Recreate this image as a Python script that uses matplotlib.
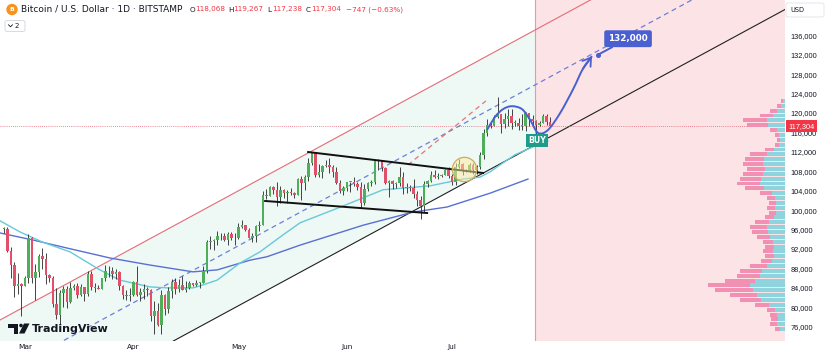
import numpy as np
import pandas as pd
import matplotlib
matplotlib.use("Agg")
from matplotlib import pyplot as plt
from matplotlib import transforms
from matplotlib.patches import Polygon, Circle, FancyBboxPatch, PathPatch
from matplotlib.path import Path

# ---- daily candles, BITSTAMP BTC/USD, prices in thousands of USD ----
START = pd.Timestamp("2025-02-23")
END = pd.Timestamp("2025-07-29")
MAR1 = pd.Timestamp("2025-03-01")

opens_k = [
    96.1, 96.2, 91.5, 88.7, 84.3, 84.7,
    84.4, 86.0, 94.3, 86.1, 87.2, 90.6, 89.9, 86.7, 86.1, 80.7, 78.5, 82.9, 83.7, 81.1, 84.0, 84.3,
    82.6, 84.1, 82.7, 86.8, 84.2, 84.0, 83.8, 86.1, 87.5, 87.4, 86.9, 87.2, 84.4, 82.6, 82.3,
    82.5, 85.2, 82.5, 83.1, 83.8, 83.5, 78.3, 79.2, 76.3, 82.6, 79.6, 83.4, 85.3, 83.7, 84.5,
    83.6, 84.0, 84.9, 84.5, 85.1, 85.1, 87.5, 93.4, 93.7, 93.9, 94.7, 94.6, 93.8, 95.0, 94.2,
    94.2, 96.5, 96.9, 95.9, 94.3, 94.7, 96.8, 97.0, 103.2, 103.0, 104.8, 104.1, 102.8, 104.1, 103.5,
    103.7, 103.5, 103.2, 106.4, 105.6, 106.8, 109.7, 111.7, 107.3, 107.8, 109.0, 109.4, 108.9, 107.8,
    105.6, 103.9,
    104.6, 105.8, 105.8, 105.4, 104.7, 101.5, 104.3, 105.6, 105.7, 110.3, 110.2, 108.6, 105.6, 106.0,
    105.4, 105.5, 106.8, 104.5, 104.8, 104.6, 103.3, 102.1, 100.9, 105.4, 106.0, 107.3, 106.9, 107.1,
    107.3, 108.3,
    107.1, 105.7, 108.8, 109.6, 108.0, 108.2, 109.2, 108.2, 108.9, 111.3, 115.9, 117.5, 117.4, 119.1,
    119.8, 117.7, 118.7, 119.3, 117.9, 117.9, 117.3, 117.4, 120.0, 118.7, 118.3, 117.6, 117.9, 119.4,
    118.068,
]
highs_k = [
    96.5, 96.5, 92.5, 89.3, 87.0, 85.0,
    86.5, 95.0, 94.4, 88.9, 91.0, 92.3, 91.2, 86.8, 86.5, 84.0, 83.6, 84.4, 84.3, 85.3, 84.7, 85.0,
    84.8, 84.1, 87.4, 87.4, 85.0, 84.5, 86.1, 88.8, 88.5, 88.3, 87.8, 87.5, 84.6, 83.5, 83.9,
    85.5, 88.5, 83.9, 84.7, 84.2, 83.8, 81.2, 80.9, 83.5, 82.7, 84.2, 85.9, 86.1, 85.8, 86.5,
    85.5, 85.5, 85.1, 85.6, 85.3, 88.5, 93.8, 94.7, 94.0, 95.8, 95.3, 95.3, 95.6, 95.5, 95.2,
    97.4, 97.9, 96.9, 96.3, 95.2, 96.9, 97.7, 103.9, 104.3, 104.9, 105.0, 105.8, 104.9, 104.3, 104.2,
    104.6, 103.7, 106.6, 107.1, 107.3, 110.8, 111.9, 111.8, 109.5, 109.3, 110.4, 110.7, 109.3, 108.9,
    106.3, 104.9,
    105.9, 105.9, 106.8, 105.9, 105.9, 105.3, 105.9, 106.3, 110.4, 110.6, 110.4, 108.9, 106.2, 106.2,
    105.9, 108.9, 107.8, 105.6, 105.2, 106.5, 104.0, 103.0, 106.0, 106.3, 108.1, 108.2, 107.7, 107.5,
    108.5, 108.8,
    107.5, 109.8, 110.5, 109.8, 108.4, 109.7, 109.7, 109.2, 111.9, 116.8, 118.8, 118.2, 119.5, 123.2,
    119.9, 120.0, 120.8, 120.9, 118.6, 118.9, 119.7, 120.2, 120.1, 119.5, 118.5, 118.3, 119.8, 119.8,
    119.267,
]
lows_k = [
    95.2, 91.3, 86.0, 82.2, 82.8, 78.2,
    84.3, 85.1, 85.0, 81.4, 86.3, 87.8, 84.7, 85.3, 80.0, 77.5, 76.6, 80.0, 79.9, 80.8, 83.6, 82.0,
    82.4, 81.2, 82.3, 83.6, 83.2, 83.7, 83.8, 85.5, 86.3, 85.9, 85.8, 83.6, 81.7, 81.6, 81.3,
    82.4, 82.3, 81.2, 81.7, 82.4, 77.2, 74.5, 76.2, 74.6, 78.5, 78.9, 82.0, 82.8, 83.2, 83.6,
    83.1, 83.8, 84.3, 84.4, 83.9, 85.1, 87.1, 91.9, 91.7, 92.9, 93.9, 93.6, 92.9, 93.8, 92.9,
    94.1, 96.3, 95.7, 94.2, 93.5, 93.4, 95.8, 96.9, 102.3, 102.9, 103.3, 100.8, 101.5, 102.6, 101.4,
    103.2, 102.6, 103.1, 102.0, 104.2, 106.1, 109.3, 106.8, 106.9, 106.6, 108.8, 107.6, 106.8, 105.3,
    103.6, 103.1,
    103.9, 103.7, 105.0, 104.2, 100.4, 101.1, 103.9, 104.9, 105.4, 108.3, 108.1, 105.4, 102.7, 104.3,
    104.5, 105.0, 103.4, 103.5, 103.9, 102.4, 100.9, 98.2, 99.6, 104.7, 105.9, 106.6, 106.4, 106.8,
    107.2, 106.7,
    105.2, 105.1, 108.6, 107.3, 107.8, 107.8, 107.5, 107.4, 108.4, 110.6, 115.3, 116.9, 117.3, 118.9,
    115.8, 116.9, 117.4, 116.8, 117.3, 116.5, 116.6, 116.2, 117.3, 117.4, 114.7, 117.4, 117.9, 117.5,
    117.238,
]
closes_k = [
    96.2, 91.5, 88.7, 84.3, 84.7, 84.4,
    86.0, 94.3, 86.1, 87.2, 90.6, 89.9, 86.7, 86.1, 80.7, 78.5, 82.9, 83.7, 81.1, 84.0, 84.3, 82.6,
    84.1, 82.7, 86.8, 84.2, 84.0, 83.8, 86.1, 87.5, 87.4, 86.9, 87.2, 84.4, 82.6, 82.3, 82.5,
    85.2, 82.5, 83.1, 83.8, 83.5, 78.3, 79.2, 76.3, 82.6, 79.6, 83.4, 85.3, 83.7, 84.5, 83.6,
    84.0, 84.9, 84.5, 85.1, 85.1, 87.5, 93.4, 93.7, 93.9, 94.7, 94.6, 93.8, 95.0, 94.2, 94.2,
    96.5, 96.9, 95.9, 94.3, 94.7, 96.8, 97.0, 103.2, 103.0, 104.8, 104.1, 102.8, 104.1, 103.5, 103.7,
    103.5, 103.2, 106.4, 105.6, 106.8, 109.7, 111.7, 107.3, 107.8, 109.0, 109.4, 108.9, 107.8, 105.6,
    103.9, 104.6,
    105.8, 105.8, 105.4, 104.7, 101.5, 104.3, 105.6, 105.7, 110.3, 110.2, 108.6, 105.6, 106.0, 105.4,
    105.5, 106.8, 104.5, 104.8, 104.6, 103.3, 102.1, 100.9, 105.4, 106.0, 107.3, 106.9, 107.1, 107.3,
    108.3, 107.1,
    105.7, 108.8, 109.6, 108.0, 108.2, 109.2, 108.2, 108.9, 111.3, 115.9, 117.5, 117.4, 119.1, 119.8,
    117.7, 118.7, 119.3, 117.9, 117.9, 117.3, 117.4, 120.0, 118.7, 118.3, 117.6, 117.9, 119.4, 118.051,
    117.304,
]

# moving averages (days since Mar 1, price k)
ma_fast_days = [-7.1, -1.4, 5.1, 12.9, 21.4, 27.1, 35.7, 40.6, 48.0, 50.0, 54.9, 61.4, 67.1, 73.7,
                78.6, 90.0, 102.3, 115.7, 125.1, 130.0, 132.9, 135.7, 140.0, 145.7, 149.4]
ma_fast_k = [97.8, 95.5, 93.4, 91.4, 87.7, 85.6, 84.2, 84.0, 84.0, 84.4, 85.6, 89.1, 91.4, 94.9,
             97.4, 100.6, 104.2, 105.0, 106.4, 106.8, 107.9, 109.3, 111.4, 113.2, 114.2]
ma_slow_days = [-7.1, 2.3, 12.0, 24.3, 35.7, 48.0, 54.9, 64.3, 69.1, 78.6, 96.6, 110.9, 120.6,
                132.9, 143.7]
ma_slow_k = [95.3, 93.85, 92.2, 90.15, 88.7, 87.3, 87.7, 89.7, 90.4, 92.8, 96.9, 99.6, 100.65,
             103.5, 106.4]

# visible range volume profile (1k bins), arbitrary units
vp_price_k = list(range(75, 123))
vp_up = [5, 8, 7, 8, 10, 16, 24, 28, 32, 35, 30, 25, 23, 18, 13, 11, 12, 11, 12, 15, 17, 18, 16, 11,
         9, 10, 9, 10, 13, 21, 25, 24, 22, 20, 22, 21, 18, 11, 6, 5, 6, 8, 17, 18, 12, 8, 4, 2]
vp_down = [5, 7, 7, 7, 8, 14, 21, 27, 38, 42, 30, 23, 22, 17, 11, 9, 10, 9, 10, 13, 16, 17, 14, 9,
           7, 8, 7, 8, 12, 19, 23, 21, 20, 18, 20, 19, 17, 9, 4, 3, 4, 7, 21, 24, 13, 7, 4, 2]

# drawings (days since Mar 1, price k)
channel_days = [-8, 220]
channel_upper_k = [77.05, 166.1]
channel_mid_k = [65.72, 154.8]
channel_lower_k = [53.38, 142.43]
red_dash_days = [109.4, 131.7]
red_dash_k = [109.3, 122.5]
tri_top_days = [80.9, 130.9]
tri_top_k = [111.97, 107.65]
tri_bot_days = [68.6, 114.9]
tri_bot_k = [101.89, 99.41]
circle_day, circle_k = 125.4, 108.47
path_days = [132.0, 134.3, 136.6, 139.1, 142.0, 144.3, 146.6, 149.4, 152.9, 156.6, 159.4, 162.0]
path_k = [116.5, 119.2, 120.8, 121.4, 120.8, 118.6, 115.9, 116.5, 120.0, 124.9, 129.1, 131.7]
target_k = 132.0
target_day = 163.7
zone_start_day = 145.7
buy_day, buy_k = 146.3, 114.34
last_price_k = 117.304

month_ticks = [0, 31, 61, 92, 122]
month_labels = ["Mar", "Apr", "May", "Jun", "Jul"]
price_ticks_k = list(range(76, 137, 4))

GREEN = "#4fae5a"
RED = "#e0506a"
TEXT = "#131722"


def catmull_path(xs, ys):
    pts = np.column_stack([xs, ys])
    verts = [pts[0]]
    codes = [Path.MOVETO]
    n = len(pts)
    for i in range(n - 1):
        p0 = pts[max(i - 1, 0)]
        p1 = pts[i]
        p2 = pts[i + 1]
        p3 = pts[min(i + 2, n - 1)]
        verts += [p1 + (p2 - p0) / 6, p2 - (p3 - p1) / 6, p2]
        codes += [Path.CURVE4] * 3
    return Path(verts, codes)


def main():
    W, H = 825, 356
    fig = plt.figure(figsize=(W / 100, H / 100), dpi=100)
    fig.patch.set_facecolor("white")
    ax = fig.add_axes([0, 15 / H, 785 / W, 341 / H])
    ax.set_xlim(-7.14, 217.14)
    ax.set_ylim(73.06, 143.27)
    for s in ax.spines.values():
        s.set_visible(False)

    days = np.array([(d - MAR1).days for d in pd.date_range(START, END)])
    o = np.array(opens_k)
    h = np.array(highs_k)
    l = np.array(lows_k)
    c = np.array(closes_k)

    # background zones
    ax.fill_between(channel_days, channel_lower_k, channel_upper_k, color="#eef8f5", lw=0, zorder=0.2)
    ax.axvspan(zone_start_day, 230, color="#fce3e5", lw=0, zorder=0.3)
    ax.axvline(zone_start_day, color="#e79aa6", lw=0.8, zorder=0.4)

    # channel
    ax.plot(channel_days, channel_upper_k, color="#e26d7a", lw=0.8, zorder=1)
    ax.plot(channel_days, channel_mid_k, color="#6d7fd6", lw=0.9, ls=(0, (4, 3)), zorder=1)
    ax.plot(channel_days, channel_lower_k, color="#202020", lw=0.8, zorder=1)
    ax.plot(red_dash_days, red_dash_k, color="#e57482", lw=0.9, ls=(0, (4, 3)), zorder=1)
    ax.axhline(last_price_k, color="#e06272", lw=0.6, ls=(0, (1, 1.5)), zorder=1)

    # moving averages
    ax.plot(ma_slow_days, ma_slow_k, color="#5a6fd3", lw=1.0, zorder=2)
    ax.plot(ma_fast_days, ma_fast_k, color="#68c9d8", lw=1.0, zorder=2)

    # candles
    colors = np.where(c >= o, GREEN, RED)
    ax.vlines(days, l, h, color="#262626", lw=0.6, zorder=3)
    ax.bar(days, np.maximum(np.abs(c - o), 0.15), bottom=np.minimum(o, c), width=0.66,
           color=colors, lw=0, zorder=4)

    # triangle + circle
    ax.plot(tri_top_days, tri_top_k, color="#111111", lw=1.4, zorder=5)
    ax.plot(tri_bot_days, tri_bot_k, color="#111111", lw=1.4, zorder=5)
    ax.plot(circle_day, circle_k, "o", ms=17.5, mfc=(1.0, 0.92, 0.62, 0.5), mec="#c9ad60",
            mew=0.9, zorder=6)

    # projected path with arrow
    blue = "#4a5fd0"
    ax.add_patch(PathPatch(catmull_path(path_days, path_k), fc="none", ec=blue, lw=1.4, zorder=6))
    ax.annotate("", xy=(path_days[-1], path_k[-1]), xytext=(path_days[-2], path_k[-2]),
                arrowprops=dict(arrowstyle="->,head_length=0.7,head_width=0.45", color=blue, lw=1.3,
                                shrinkA=0, shrinkB=0, mutation_scale=8), zorder=6)
    ax.plot(target_day, target_k, "o", ms=2.6, color=blue, zorder=7)
    ax.annotate(f"{int(target_k * 1000):,}", xy=(target_day, target_k), xytext=(172.3, 135.3),
                ha="center", va="center", color="white", fontsize=6.3, fontweight="bold",
                bbox=dict(boxstyle="round,pad=0.45,rounding_size=0.25", fc=blue, ec="none"),
                arrowprops=dict(arrowstyle="-", color=blue, lw=1.4, shrinkA=0, shrinkB=0), zorder=7)

    ax.text(buy_day, buy_k, "BUY", ha="center", va="center", color="white", fontsize=5.6,
            fontweight="bold", zorder=7,
            bbox=dict(boxstyle="square,pad=0.3", fc="#1f9c88", ec="none"))

    # volume profile on the right edge
    vp = ax.twiny()
    vp.set_xlim(785, 0)
    vp.set_axis_off()
    vp.barh(np.array(vp_price_k) + 0.5, vp_up, height=0.8, left=0, color="#8ed3dd", lw=0)
    vp.barh(np.array(vp_price_k) + 0.5, vp_down, height=0.8, left=vp_up, color="#f190b3", lw=0)

    # axes ticks
    ax.yaxis.tick_right()
    ax.set_yticks(price_ticks_k, [f"{v * 1000:,}" for v in price_ticks_k])
    ax.tick_params(axis="y", length=0, pad=4, labelsize=5.3, labelcolor=TEXT)
    for t in ax.get_yticklabels():
        t.set_fontfamily("Liberation Sans")
    ax.set_xticks(month_ticks, month_labels)
    ax.tick_params(axis="x", length=0, pad=2.5, labelsize=5.3, labelcolor=TEXT)

    tr = transforms.blended_transform_factory(ax.transAxes, ax.transData)
    ax.text(1.004, last_price_k, f"{int(round(last_price_k * 1000)):,}", transform=tr, va="center",
            ha="left", color="white", fontsize=5.3, family="Liberation Sans", clip_on=False,
            zorder=10, bbox=dict(boxstyle="square,pad=0.35", fc="#f23645", ec="none"))

    # overlay in pixel coords: header, logo, currency box
    ov = fig.add_axes([0, 0, 1, 1])
    ov.set_xlim(0, W)
    ov.set_ylim(H, 0)
    ov.set_axis_off()
    ov.patch.set_alpha(0)

    ov.add_patch(Circle((12, 9.5), 5, color="#f7931a"))
    ov.text(12, 9.7, "B", ha="center", va="center", color="white", fontsize=4.5, fontweight="bold")
    ov.text(21, 9.5, "Bitcoin / U.S. Dollar · 1D · BITSTAMP", va="center", ha="left",
            fontsize=6.5, color=TEXT)
    ohlc = [("O", "118,068", 190), ("H", "119,267", 228), ("L", "117,238", 267),
            ("C", "117,304", 306)]
    for letter, val, x in ohlc:
        ov.text(x, 9.5, letter, va="center", fontsize=5.2, color=TEXT)
        ov.text(x + 5.5, 9.5, val, va="center", fontsize=5.2, color="#f23645")
    ov.text(346, 9.5, "\u2212747 (\u22120.63%)", va="center", fontsize=5.2, color="#f23645")

    ov.add_patch(FancyBboxPatch((5, 20.5), 20, 11, boxstyle="round,pad=0,rounding_size=2",
                                fc="white", ec="#d1d4dc", lw=0.6))
    ov.plot([8.5, 10.5, 12.5], [24.8, 26.8, 24.8], color=TEXT, lw=0.6)
    ov.text(15, 26, "2", va="center", fontsize=5.0, color=TEXT)

    ov.add_patch(FancyBboxPatch((786, 3), 38, 14, boxstyle="round,pad=0,rounding_size=2",
                                fc="white", ec="#e0e3eb", lw=0.6))
    ov.text(790, 10, "USD", va="center", fontsize=4.8, color=TEXT)

    ov.add_patch(Polygon([(8, 323.5), (18.3, 323.5), (18.3, 333.5), (13.5, 333.5),
                          (13.5, 327.5), (8, 327.5)], closed=True, color="#131722", lw=0))
    ov.add_patch(Circle((21, 325.5), 1.8, color="#131722", lw=0))
    ov.add_patch(Polygon([(24, 323.5), (29.5, 323.5), (24.5, 333.5), (19, 333.5)],
                         closed=True, color="#131722", lw=0))
    ov.text(32, 328.5, "TradingView", va="center", ha="left", fontsize=8, fontweight="bold",
            color="#131722")

    fig.savefig("out.png", dpi=100)


if __name__ == '__main__':
    main()
